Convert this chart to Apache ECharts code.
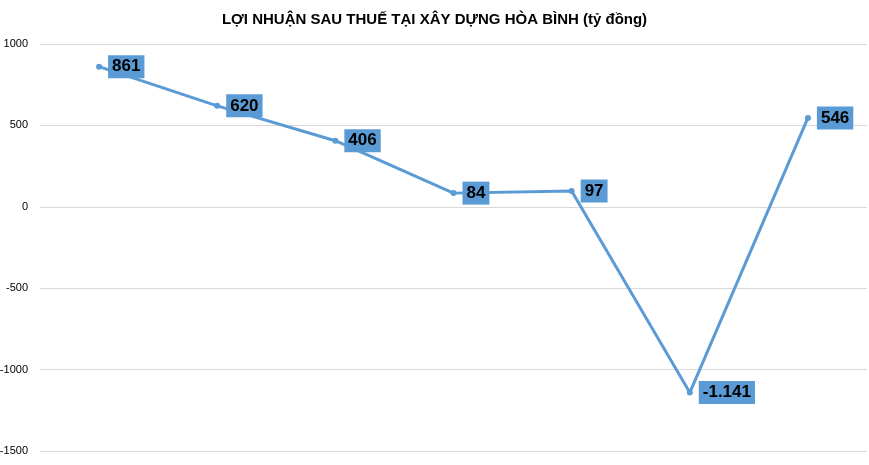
<!DOCTYPE html>
<html><head><meta charset="utf-8">
<script src="https://cdn.jsdelivr.net/npm/echarts@6/dist/echarts.min.js"></script>
<style>html,body{margin:0;padding:0;background:#fff}#c{width:869px;height:465px}</style>
</head><body><div id="c"></div>
<script>
const categories = ['Năm 2017','2018','2019','2020','2021','2022','6T2023'];
const values = [861,620,406,84,97,-1141,546];
const yTicks = {min:-1500,max:1000,interval:500};
const chart = echarts.init(document.getElementById('c'));
chart.setOption({
  animation:false,
  title:{text:'LỢI NHUẬN SAU THUẾ TẠI XÂY DỰNG HÒA BÌNH (tỷ đồng)',left:'center',top:7,
    textStyle:{fontFamily:'Liberation Sans',fontSize:15,fontWeight:'bold',color:'#000'}},
  grid:{left:40,right:2,top:44,bottom:14,containLabel:false,outerBoundsMode:'none'},
  xAxis:{type:'category',data:categories,boundaryGap:true,
    axisLine:{show:true,onZero:true,lineStyle:{color:'rgba(0,0,0,0)'}},axisTick:{show:false},
    axisLabel:{fontFamily:'Liberation Sans',fontSize:13,fontWeight:'bold',color:'#000',margin:14}},
  yAxis:{type:'value',min:yTicks.min,max:yTicks.max,interval:yTicks.interval,
    axisLabel:{fontFamily:'Liberation Sans',fontSize:11,color:'#000',margin:12,formatter:v=>String(v)},
    splitLine:{lineStyle:{color:'#d9d9d9'}}},
  series:[{type:'line',data:values,symbol:'circle',symbolSize:6,
    lineStyle:{color:'#5b9bd5',width:3},itemStyle:{color:'#5b9bd5'},
    label:{show:true,position:'right',distance:6,backgroundColor:'#5b9bd5',
      padding:[4,4,2,4],color:'#000',fontFamily:'Liberation Sans',fontSize:17,fontWeight:'bold',
      formatter:p=>String(p.value).replace(/(\d)(\d{3})$/,'$1.$2')}}]
});
</script></body></html>
